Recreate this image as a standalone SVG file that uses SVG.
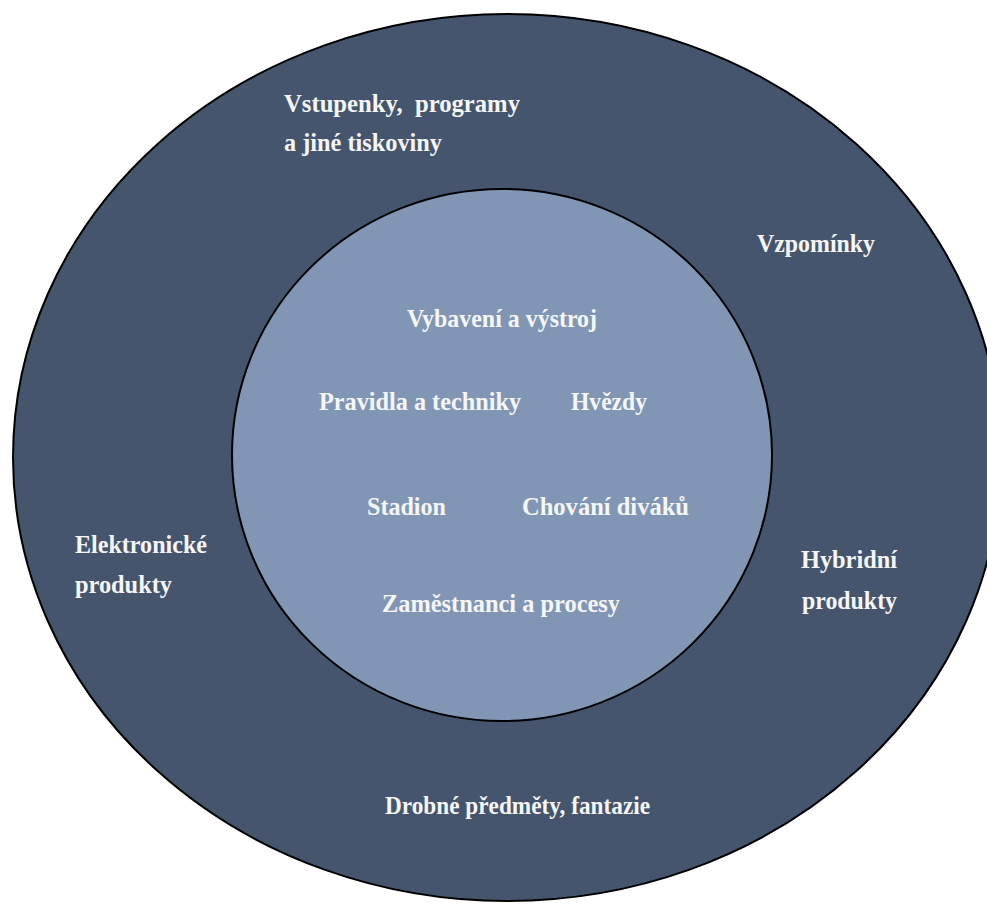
<svg xmlns="http://www.w3.org/2000/svg" width="987" height="904" viewBox="0 0 987 904">
<style>
.lbl{font-family:"Liberation Serif","Times New Roman",serif;font-weight:bold;font-size:26px;fill:#F6F6F6}
.outer{fill:#44556D;stroke:#000;stroke-width:2}
.inner{fill:#8196B4;stroke:#000;stroke-width:2}
</style>
<rect width="987" height="904" fill="#FFFFFF"/>
<g id="outer-ring">
<ellipse class="outer" cx="507" cy="457.5" rx="494" ry="443.5"/>
<text class="lbl" x="284" y="112" textLength="236" lengthAdjust="spacingAndGlyphs" xml:space="preserve">Vstupenky,  programy</text>
<text class="lbl" x="284" y="151" textLength="158" lengthAdjust="spacingAndGlyphs">a jiné tiskoviny</text>
<text class="lbl" x="757" y="252" textLength="118" lengthAdjust="spacingAndGlyphs">Vzpomínky</text>
<text class="lbl" x="75" y="553" textLength="132" lengthAdjust="spacingAndGlyphs">Elektronické</text>
<text class="lbl" x="75" y="593" textLength="97" lengthAdjust="spacingAndGlyphs">produkty</text>
<text class="lbl" x="801" y="568" textLength="96" lengthAdjust="spacingAndGlyphs">Hybridní</text>
<text class="lbl" x="802" y="609" textLength="95" lengthAdjust="spacingAndGlyphs">produkty</text>
<text class="lbl" x="385" y="814" textLength="265" lengthAdjust="spacingAndGlyphs">Drobné předměty, fantazie</text>
</g>
<g id="inner-core">
<ellipse class="inner" cx="502" cy="455" rx="270" ry="266"/>
<text class="lbl" x="407" y="327" textLength="190" lengthAdjust="spacingAndGlyphs">Vybavení a výstroj</text>
<text class="lbl" x="319" y="410" textLength="202" lengthAdjust="spacingAndGlyphs">Pravidla a techniky</text>
<text class="lbl" x="571" y="410" textLength="76" lengthAdjust="spacingAndGlyphs">Hvězdy</text>
<text class="lbl" x="367" y="515" textLength="79" lengthAdjust="spacingAndGlyphs">Stadion</text>
<text class="lbl" x="522" y="515" textLength="167" lengthAdjust="spacingAndGlyphs">Chování diváků</text>
<text class="lbl" x="382" y="612" textLength="238" lengthAdjust="spacingAndGlyphs">Zaměstnanci a procesy</text>
</g>
<g id="connectors"></g>
</svg>
